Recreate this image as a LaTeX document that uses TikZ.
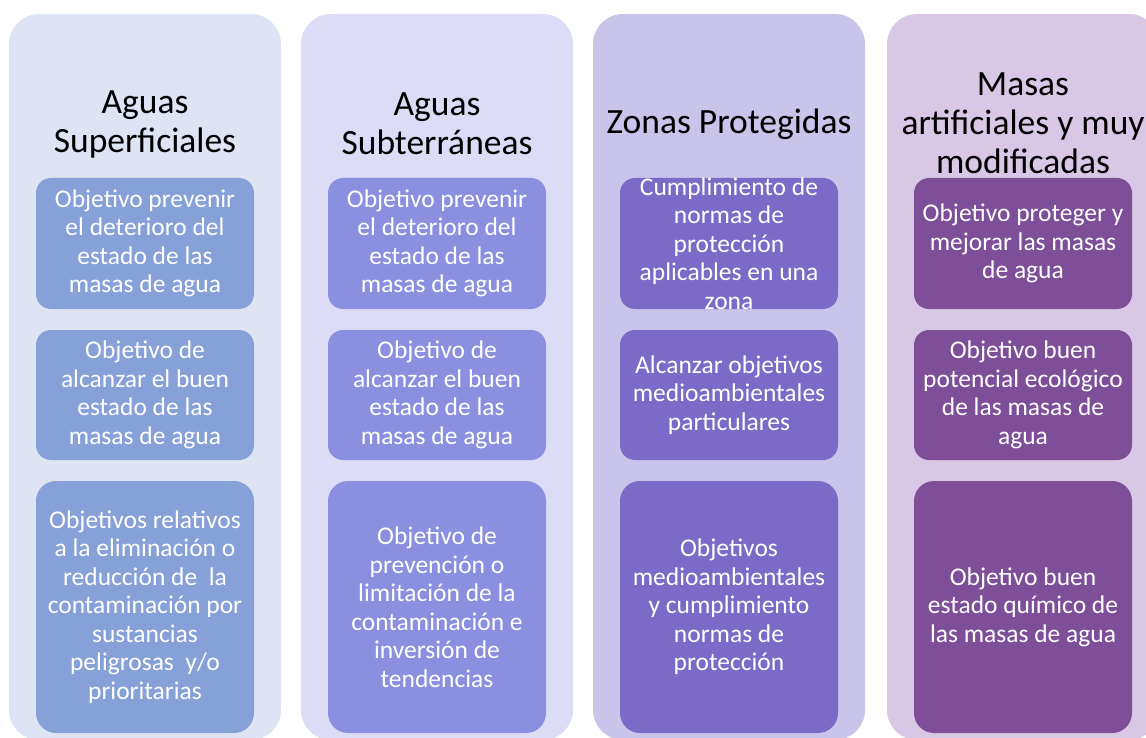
\documentclass[tikz,border=0pt]{standalone}
\usepackage{fontspec}
\setmainfont{Carlito}

\definecolor{supBack}{HTML}{DFE4F4}
\definecolor{supBox}{HTML}{86A0D8}
\definecolor{subBack}{HTML}{DCDCF6}
\definecolor{subBox}{HTML}{8A8FDF}
\definecolor{zonBack}{HTML}{C9C4E9}
\definecolor{zonBox}{HTML}{7B6AC7}
\definecolor{artBack}{HTML}{D9C8E5}
\definecolor{artBox}{HTML}{7E4E98}

\begin{document}
\begin{tikzpicture}[x=1pt,y=-1pt]
  \tikzset{col back/.style={fill=#1,rounded corners=30pt,minimum width=272pt,minimum height=726pt,inner sep=0pt},
    goal box/.style={fill=#1,rounded corners=15pt,minimum width=218pt,inner sep=0pt},
    goal text/.style={text=white,align=center,inner sep=0pt,font=\fontsize{25.5}{28.5}\selectfont},
    col title/.style={align=center,inner sep=0pt,font=\fontsize{35.5}{39}\selectfont}}

  \useasboundingbox (0,0) rectangle (1146,738);
  \clip (0,0) rectangle (1146,738);

  % columns
  \node [col back = supBack] (S) at (145,377) {};
  \node [col back = subBack] (U) at (437,377) {};
  \node [col back = zonBack] (Z) at (729,377) {};
  \node [col back = artBack] (M) at (1023,377) {};

  \node [col title] (St) at (145,124) {Aguas\\Superficiales};
  \node [col title] (Ut) at (437,124) {Aguas\\Subterráneas};
  \node [col title] (Zt) at (729,124) {Zonas Protegidas};
  \node [col title] (Mt) at (1023,123) {Masas\\artificiales y muy\\modificadas};

  % Aguas Superficiales
  \node [goal box = supBox, goal text, minimum height=131pt] (S1) at (145,243.5) {Objetivo prevenir\\el deterioro del\\estado de las\\masas de agua};
  \node [goal box = supBox, goal text, minimum height=130pt] (S2) at (145,395) {Objetivo de\\alcanzar el buen\\estado de las\\masas de agua};
  \node [goal box = supBox, goal text, minimum height=252pt, rounded corners=20pt] (S3) at (145,607) {Objetivos relativos\\a la eliminación o\\reducción de\ \ la\\contaminación por\\sustancias\\peligrosas\ \ y/o\\prioritarias};

  % Aguas Subterraneas
  \node [goal box = subBox, goal text, minimum height=131pt] (U1) at (437,243.5) {Objetivo prevenir\\el deterioro del\\estado de las\\masas de agua};
  \node [goal box = subBox, goal text, minimum height=130pt] (U2) at (437,395) {Objetivo de\\alcanzar el buen\\estado de las\\masas de agua};
  \node [goal box = subBox, goal text, minimum height=252pt, rounded corners=20pt] (U3) at (437,607) {Objetivo de\\prevención o\\limitación de la\\contaminación e\\inversión de\\tendencias};

  % Zonas Protegidas
  \node [goal box = zonBox, minimum height=131pt] (Z1) at (729,243.5) {};
  \node [goal text] (Z1t) at (Z1.center) {Cumplimiento de\\normas de\\protección\\aplicables en una\\zona};
  \node [goal box = zonBox, goal text, minimum height=130pt] (Z2) at (729,395) {Alcanzar objetivos\\medioambientales\\particulares};
  \node [goal box = zonBox, goal text, minimum height=252pt, rounded corners=20pt] (Z3) at (729,607) {Objetivos\\medioambientales\\y cumplimiento\\normas de\\protección};

  % Masas artificiales
  \node [goal box = artBox, goal text, minimum height=131pt] (M1) at (1023,243.5) {Objetivo proteger y\\mejorar las masas\\de agua};
  \node [goal box = artBox, goal text, minimum height=130pt] (M2) at (1023,395) {Objetivo buen\\potencial ecológico\\de las masas de\\agua};
  \node [goal box = artBox, goal text, minimum height=252pt, rounded corners=20pt] (M3) at (1023,607) {Objetivo buen\\estado químico de\\las masas de agua};
\end{tikzpicture}
\end{document}
